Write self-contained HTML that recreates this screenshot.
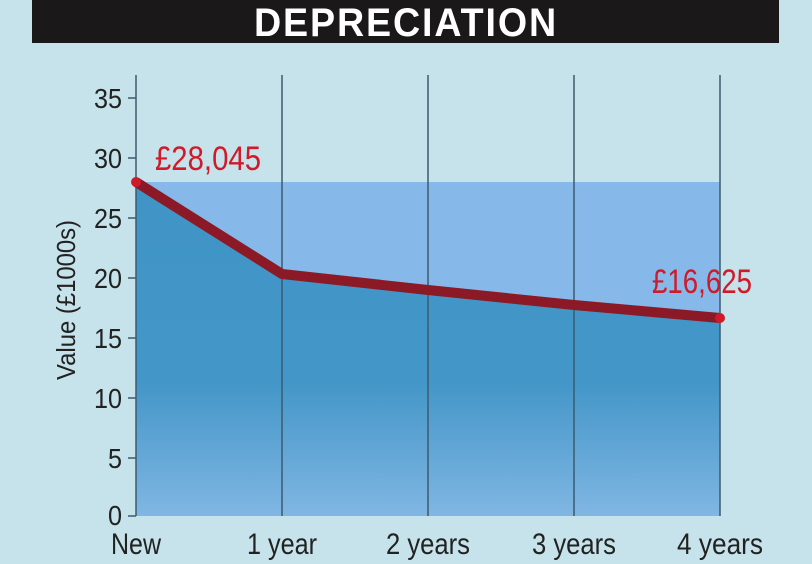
<!DOCTYPE html>
<html><head><style>
html,body{margin:0;padding:0;background:#c6e3eb;}
body{width:812px;height:564px;overflow:hidden;position:relative;}
</style></head><body>
<svg width="812" height="564" viewBox="0 0 812 564" xmlns="http://www.w3.org/2000/svg" style="position:absolute;left:0;top:0">
<defs>
<linearGradient id="g" x1="0" y1="0" x2="0" y2="1">
<stop offset="0" stop-color="#3f94c6"/><stop offset="0.6" stop-color="#4396c8"/><stop offset="1" stop-color="#80b6e3"/>
</linearGradient>
</defs>
<rect x="0" y="0" width="812" height="564" fill="#c6e3eb"/>
<rect x="32" y="0" width="747" height="43" fill="#1a1818"/>
<text x="406" y="36" text-anchor="middle" font-family="Liberation Sans, sans-serif" font-weight="bold" font-size="40" fill="#fff" letter-spacing="2" textLength="304" lengthAdjust="spacingAndGlyphs">DEPRECIATION</text>
<rect x="136" y="182" width="584" height="334" fill="#86b9e9"/>
<polygon points="136,182 282,274 428,290 574,305 720,318 720,516 136,516" fill="url(#g)"/>
<g stroke="#3d5a6e" stroke-width="1.5">
<line x1="136" y1="75" x2="136" y2="516"/>
<line x1="282" y1="75" x2="282" y2="516"/>
<line x1="428" y1="75" x2="428" y2="516"/>
<line x1="574" y1="75" x2="574" y2="516"/>
<line x1="720" y1="75" x2="720" y2="516"/>
<line x1="128" y1="98" x2="136" y2="98"/>
<line x1="128" y1="158" x2="136" y2="158"/>
<line x1="128" y1="218" x2="136" y2="218"/>
<line x1="128" y1="278" x2="136" y2="278"/>
<line x1="128" y1="338" x2="136" y2="338"/>
<line x1="128" y1="398" x2="136" y2="398"/>
<line x1="128" y1="458" x2="136" y2="458"/>
<line x1="128" y1="516" x2="136" y2="516"/>
</g>
<g font-family="Liberation Sans, sans-serif" font-size="28" fill="#222" text-anchor="end">
<text x="122" y="108" textLength="28" lengthAdjust="spacingAndGlyphs">35</text>
<text x="122" y="168" textLength="28" lengthAdjust="spacingAndGlyphs">30</text>
<text x="122" y="228" textLength="28" lengthAdjust="spacingAndGlyphs">25</text>
<text x="122" y="288" textLength="28" lengthAdjust="spacingAndGlyphs">20</text>
<text x="122" y="348" textLength="28" lengthAdjust="spacingAndGlyphs">15</text>
<text x="122" y="408" textLength="28" lengthAdjust="spacingAndGlyphs">10</text>
<text x="122" y="468" textLength="14" lengthAdjust="spacingAndGlyphs">5</text>
<text x="122" y="525" textLength="14" lengthAdjust="spacingAndGlyphs">0</text>
</g>
<text transform="translate(75,300) rotate(-90)" text-anchor="middle" font-family="Liberation Sans, sans-serif" font-size="26" fill="#222" textLength="160" lengthAdjust="spacingAndGlyphs">Value (£1000s)</text>
<g font-family="Liberation Sans, sans-serif" font-size="30" fill="#222" text-anchor="middle">
<text x="136" y="554" textLength="50" lengthAdjust="spacingAndGlyphs">New</text>
<text x="282" y="554" textLength="70" lengthAdjust="spacingAndGlyphs">1 year</text>
<text x="428" y="554" textLength="84" lengthAdjust="spacingAndGlyphs">2 years</text>
<text x="574" y="554" textLength="84" lengthAdjust="spacingAndGlyphs">3 years</text>
<text x="720" y="554" textLength="86" lengthAdjust="spacingAndGlyphs">4 years</text>
</g>
<polyline points="136,182 282,274 428,290 574,305 720,318" fill="none" stroke="#8b1a26" stroke-width="10" stroke-linejoin="round"/>
<circle cx="136" cy="182" r="5" fill="#d01a2a"/>
<circle cx="720" cy="318" r="5" fill="#d01a2a"/>
<g font-family="Liberation Sans, sans-serif" font-size="34" fill="#d01a2a">
<text x="155" y="170" textLength="106" lengthAdjust="spacingAndGlyphs">£28,045</text>
<text x="652" y="293" textLength="100" lengthAdjust="spacingAndGlyphs">£16,625</text>
</g>
</svg>
</body></html>
